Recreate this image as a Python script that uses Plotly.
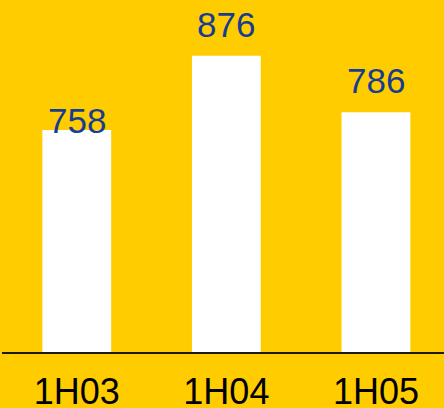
import plotly.graph_objects as go

categories = ["1H03", "1H04", "1H05"]
values = [758, 876, 786]
label_shifts = [-12, 10, 10]

BG = "#FFCC00"
BLUE = "#183C8F"

fig = go.Figure()
fig.add_trace(go.Bar(
    x=categories, y=values,
    marker=dict(color="white", line=dict(width=0)),
    width=0.46,
    hoverinfo="skip",
))

for c, v, s in zip(categories, values, label_shifts):
    fig.add_annotation(
        x=c, y=v, text=str(v), showarrow=False,
        yanchor="bottom", yshift=s,
        font=dict(family="Liberation Sans, Arial", size=35, color=BLUE),
    )

fig.update_layout(
    width=444, height=408,
    margin=dict(l=2, r=0, t=0, b=56, pad=0, autoexpand=False),
    paper_bgcolor=BG, plot_bgcolor=BG,
    showlegend=False,
    font=dict(family="Liberation Sans, Arial", size=35, color="black"),
    xaxis=dict(
        range=[-0.5, 2.455],
        showline=True, linecolor="#1a1a1a", linewidth=2,
        showgrid=False, zeroline=False, ticks="",
        tickfont=dict(size=36, color="black"),
        ticklabelstandoff=7,
        automargin=False,
        fixedrange=True,
    ),
    yaxis=dict(
        range=[404, 965],
        visible=False, showgrid=False, zeroline=False,
        automargin=False,
        fixedrange=True,
    ),
)

fig.write_html(
    "out.html",
    config={"displayModeBar": False},
    post_script="document.body.style.margin='0';document.body.style.padding='0';document.body.style.background='#FFCC00';",
)
